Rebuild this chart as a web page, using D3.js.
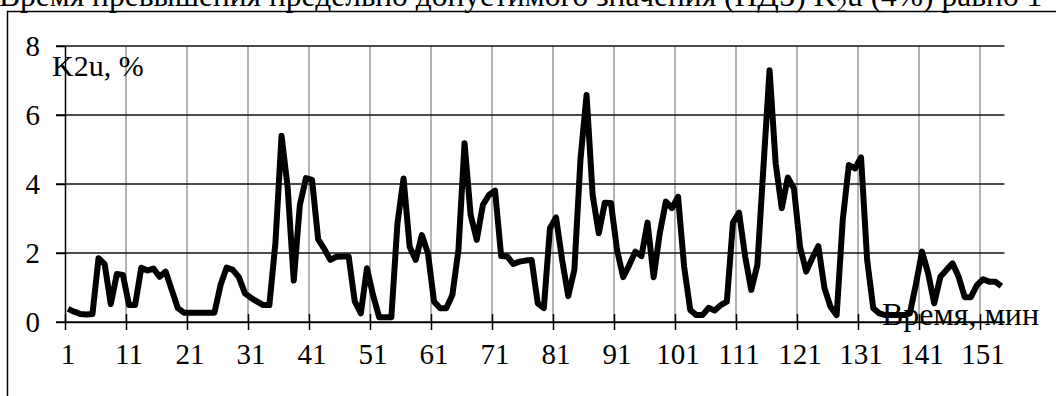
<!DOCTYPE html>
<html>
<head>
<meta charset="utf-8">
<script src="https://cdn.jsdelivr.net/npm/d3@7"></script>
<style>
  html, body { margin: 0; padding: 0; background: #fff; }
  svg { display: block; }
  text { font-family: "Liberation Serif", "Times New Roman", serif; fill: #000; }
</style>
</head>
<body>
<svg id="chart" width="1056" height="396"></svg>
<script>
// K2u readings, one per minute
const minutes = d3.range(1, 155);
const k2u = [
  0.38, 0.30, 0.23, 0.22, 0.23, 1.85, 1.68, 0.52, 1.39, 1.36,
  0.49, 0.49, 1.57, 1.49, 1.55, 1.31, 1.46, 0.93, 0.40, 0.27,
  0.27, 0.27, 0.27, 0.27, 0.27, 1.07, 1.58, 1.51, 1.30, 0.83,
  0.70, 0.59, 0.49, 0.49, 2.30, 5.40, 3.90, 1.20, 3.39, 4.17,
  4.12, 2.40, 2.12, 1.80, 1.89, 1.90, 1.90, 0.60, 0.25, 1.56,
  0.78, 0.14, 0.14, 0.14, 2.86, 4.16, 2.18, 1.80, 2.52, 1.99,
  0.59, 0.40, 0.40, 0.78, 2.09, 5.18, 3.10, 2.38, 3.39, 3.68,
  3.81, 1.91, 1.90, 1.68, 1.75, 1.78, 1.80, 0.54, 0.40, 2.72,
  3.03, 1.80, 0.75, 1.51, 4.70, 6.58, 3.68, 2.57, 3.46, 3.45,
  2.09, 1.30, 1.65, 2.04, 1.91, 2.88, 1.30, 2.57, 3.49, 3.30,
  3.63, 1.60, 0.35, 0.20, 0.20, 0.41, 0.33, 0.49, 0.59, 2.88,
  3.17, 1.90, 0.93, 1.65, 4.50, 7.30, 4.60, 3.30, 4.19, 3.87,
  2.18, 1.46, 1.85, 2.20, 0.98, 0.44, 0.20, 2.96, 4.55, 4.45,
  4.77, 1.80, 0.40, 0.25, 0.20, 0.20, 0.20, 0.20, 0.25, 1.10,
  2.04, 1.41, 0.54, 1.31, 1.51, 1.70, 1.31, 0.72, 0.72, 1.07,
  1.24, 1.17, 1.17, 1.04
];
const xTickLabels = [1, 11, 21, 31, 41, 51, 61, 71, 81, 91, 101, 111, 121, 131, 141, 151];
const yTickValues = [0, 2, 4, 6, 8];
const titleText = ["Время превышения предельно допустимого значения (ПДЗ) K", "2", "u (4%) равно 1"];
const yTitle = "K2u, %";
const xTitle = "Время, мин";

const svg = d3.select("#chart");
const plot = { left: 65, right: 1004.4, top: 46, bottom: 322 };

// categories sit between tick marks: minute i is centred at i
const x = d3.scaleLinear().domain([0.5, minutes.length + 0.5]).range([plot.left, plot.right]);
const y = d3.scaleLinear().domain([0, 8]).range([plot.bottom, plot.top]);

// outer frame (left and top edges)
svg.append("path")
  .attr("d", `M7.5,396 L7.5,11.5 L1056,11.5`)
  .attr("fill", "none").attr("stroke", "#000").attr("stroke-width", 1.5);

// title
const t = svg.append("text").attr("x", -1).attr("y", 5.5).style("font-size", "31.5px");
t.append("tspan").text(titleText[0]);
t.append("tspan").attr("dy", 6).style("font-size", "21px").text(titleText[1]);
t.append("tspan").attr("dy", -6).text(titleText[2]);

// vertical gridlines at category boundaries
const boundaries = xTickLabels.map(d => d - 0.5);
svg.append("g").selectAll("line").data(boundaries.slice(1)).join("line")
  .attr("x1", d => x(d)).attr("x2", d => x(d))
  .attr("y1", y(8)).attr("y2", y(0))
  .attr("stroke", "#9a9a9a").attr("stroke-width", 1.5);

// horizontal gridlines, continuing into the outside ticks
svg.append("g").selectAll("line").data(yTickValues).join("line")
  .attr("x1", plot.left - 9).attr("x2", plot.right)
  .attr("y1", d => y(d)).attr("y2", d => y(d))
  .attr("stroke", "#111").attr("stroke-width", 1.5);

// y axis
const yAxis = svg.append("g").attr("transform", `translate(${plot.left},0)`)
  .call(d3.axisLeft(y).tickValues(yTickValues).tickSize(9).tickSizeOuter(0).tickPadding(16));
yAxis.select(".domain").attr("stroke", "#000").attr("stroke-width", 1.5);
yAxis.selectAll(".tick line").attr("stroke", "#000").attr("stroke-width", 1.5);
yAxis.selectAll(".tick text").style("font-size", "29px").attr("dy", "0.34em")
  .style("font-family", "'Liberation Serif', serif");

// x axis: crossing ticks at boundaries, labels centred on categories
const xAxis = svg.append("g").attr("transform", `translate(0,${plot.bottom})`)
  .call(d3.axisBottom(x).tickValues(boundaries).tickSize(8).tickSizeOuter(0).tickFormat(() => ""));
xAxis.select(".domain").attr("stroke", "#000").attr("stroke-width", 1.5);
xAxis.selectAll(".tick line").attr("y1", -8).attr("y2", 8).attr("stroke", "#000").attr("stroke-width", 1.5);

svg.append("g").selectAll("text").data(xTickLabels).join("text")
  .attr("x", d => x(d)).attr("y", 364)
  .attr("text-anchor", "middle").style("font-size", "29px")
  .text(d => d);

// the series
const line = d3.line().x((d, i) => x(minutes[i])).y(d => y(d));
svg.append("path").datum(k2u)
  .attr("d", line)
  .attr("fill", "none").attr("stroke", "#000").attr("stroke-width", 6)
  .attr("stroke-linejoin", "round").attr("stroke-linecap", "butt");

// axis titles
svg.append("text").attr("x", 52).attr("y", 76).style("font-size", "30px").text(yTitle);
svg.append("text").attr("x", 882).attr("y", 325).style("font-size", "32px").text(xTitle);
</script>
</body>
</html>
